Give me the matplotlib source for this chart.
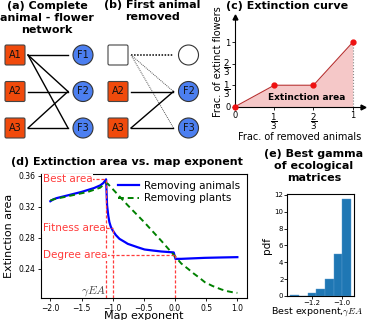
import matplotlib
matplotlib.use("Agg")
import matplotlib.pyplot as plt
from matplotlib.patches import FancyBboxPatch, Circle
import numpy as np

# ---------------- data ----------------
# network (a)/(b)
animal_labels = ["A1", "A2", "A3"]
flower_labels = ["F1", "F2", "F3"]
edges = [(0, 0), (0, 1), (0, 2), (1, 1), (2, 1), (2, 2)]
removed_animal = 0
extinct_flowers = [0]

# extinction curve (c)
frac_removed = [0, 1/3, 2/3, 1]
frac_extinct = [0, 1/3, 1/3, 1]
frac_ticks = [0, 1/3, 2/3, 1]
frac_ticklabels = ["0", r"$\dfrac{1}{3}$", r"$\dfrac{2}{3}$", "1"]

# extinction area vs map exponent (d)
gamma_animals = [-2.0, -1.95, -1.9, -1.8, -1.7, -1.6, -1.5, -1.4, -1.3, -1.2, -1.15, -1.106,
                 -1.09, -1.07, -1.053, -1.03, -1.0, -0.95, -0.892, -0.8, -0.758, -0.6,
                 -0.489, -0.35, -0.22, -0.1, -0.021, 0.0065, 0.1, 0.3, 0.479, 0.75, 1.0]
area_animals = [0.327, 0.3295, 0.331, 0.333, 0.335, 0.337, 0.339, 0.3415, 0.344, 0.3475, 0.3505, 0.3553,
                0.3216, 0.308, 0.300, 0.294, 0.2893, 0.2833, 0.2784, 0.274, 0.2719, 0.2675,
                0.2646, 0.2632, 0.262, 0.2613, 0.2608, 0.2525, 0.2525, 0.2532, 0.2538, 0.2543, 0.2547]
gamma_plants = [-2.0, -1.9, -1.8, -1.6, -1.4, -1.2, -1.12, -1.08, -0.758, -0.489, -0.22, 0.011,
                0.1, 0.21, 0.3, 0.4, 0.479, 0.6, 0.748, 0.85, 0.963, 1.0]
area_plants = [0.328, 0.3305, 0.332, 0.3355, 0.339, 0.3445, 0.3505, 0.3497, 0.3217, 0.2995, 0.2758, 0.2547,
               0.2465, 0.2395, 0.2335, 0.2275, 0.2223, 0.2175, 0.2128, 0.2105, 0.2087, 0.2085]
ref_names = ["Best area", "Fitness area", "Degree area"]
ref_gamma = [-1.115, -0.99, 0.005]
ref_area = [0.3558, 0.2922, 0.2569]

# histogram (e)
bin_left = [-1.348, -1.289, -1.230, -1.171, -1.112, -1.053, -0.994]
bin_width = 0.0589
pdf_vals = [0.15, 0.0, 0.3, 0.8, 2.0, 5.0, 11.5]

# ---------------- figure ----------------
W, H = 374, 320
fig = plt.figure(figsize=(W / 100, H / 100), dpi=100)

def rect(l, t, r, b):
    return [l / W, 1 - b / H, (r - l) / W, (b - t) / H]

ORANGE = "#f04a0c"
BLUE = "#4c7ff0"
TFS = 8  # title font size

# ---- networks (a) and (b) on a pixel overlay ----
axn = fig.add_axes([0, 0, 1, 1])
axn.set_xlim(0, W)
axn.set_ylim(H, 0)
axn.axis("off")

row_y = [55, 91.5, 128]
half = 10

def draw_net(ax_x, fl_x, removed):
    for (a, f) in edges:
        x0, x1 = ax_x + half + 3, fl_x - half - 5
        if a in removed:
            if f in extinct_flowers:
                axn.plot([x0, x1], [row_y[a], row_y[f]], color="black", lw=1.1, ls=(0, (1, 1)))
            else:
                axn.plot([x0, x1], [row_y[a], row_y[f]], color="#555555", lw=0.7, ls=(0, (1, 1)))
        else:
            axn.plot([x0, x1], [row_y[a], row_y[f]], color="black", lw=1.0)
    for i, lab in enumerate(animal_labels):
        gone = i in removed
        axn.add_patch(FancyBboxPatch((ax_x - half + 1.5, row_y[i] - half + 1.5), 2 * half - 3, 2 * half - 3,
                                     boxstyle="round,pad=1.5", fc="white" if gone else ORANGE,
                                     ec="#444444", lw=0.8))
        if not gone:
            axn.text(ax_x, row_y[i], lab, ha="center", va="center", fontsize=7, color="#111111")
    for j, lab in enumerate(flower_labels):
        gone = removed and j in extinct_flowers
        axn.add_patch(Circle((fl_x, row_y[j]), half, fc="white" if gone else BLUE, ec="#333333", lw=0.8))
        if not gone:
            axn.text(fl_x, row_y[j], lab, ha="center", va="center", fontsize=7, color="#111111")

draw_net(15, 83, [])
draw_net(118, 188.5, [removed_animal])

fig.text(47 / W, 1 - 18 / H, "(a) Complete\nanimal - flower\nnetwork", ha="center", va="center",
         fontsize=TFS, fontweight="bold", linespacing=1.2)
fig.text(152 / W, 1 - 11 / H, "(b) First animal\nremoved", ha="center", va="center",
         fontsize=TFS, fontweight="bold", linespacing=1.2)

# ---- (c) extinction curve ----
ox, oy, ux, uy = 235, 106.7, 117.7, 64.4
axc = fig.add_axes(rect(ox, oy - uy * 1.40, ox + ux * 1.09, oy))
axc.set_xlim(0, 1.09)
axc.set_ylim(0, 1.40)
for s in ["top", "right"]:
    axc.spines[s].set_visible(False)
axc.spines["left"].set_linewidth(0.8)
axc.spines["bottom"].set_linewidth(0.8)
axc.plot(1, 0, ">k", transform=axc.get_yaxis_transform(), clip_on=False, ms=3.5)
axc.plot(0, 1, "^k", transform=axc.get_xaxis_transform(), clip_on=False, ms=3.5)
axc.fill_between(frac_removed, frac_extinct, 0, color="#f5c8c8", lw=0)
axc.plot(frac_removed, frac_extinct, color="#b83030", lw=0.8)
axc.plot(frac_removed, frac_extinct, "o", color="#ee1111", ms=3.5, clip_on=False, zorder=5)
axc.plot([frac_removed[-1], frac_removed[-1]], [0, frac_extinct[-1]], color="#888888", lw=0.8, ls=":")
axc.set_xticks(frac_ticks)
axc.set_xticklabels(frac_ticklabels, fontsize=6)
axc.set_yticks(frac_ticks)
axc.set_yticklabels(frac_ticklabels, fontsize=6)
for lbl in axc.get_xticklabels() + axc.get_yticklabels():
    if "frac" in lbl.get_text():
        lbl.set_fontsize(6.3)
axc.tick_params(length=2, width=0.6, pad=1)
axc.text(0.61, 0.15, "Extinction area", fontsize=6.5, fontweight="bold", ha="center", va="center")
axc.set_xlabel("Frac. of removed animals", fontsize=7, labelpad=0)
axc.set_ylabel("Frac. of extinct flowers", fontsize=7, labelpad=0)
fig.text(287.5 / W, 1 - 6 / H, "(c) Extinction curve", ha="center", va="center",
         fontsize=TFS, fontweight="bold")

# ---- (d) extinction area vs map exponent ----
axd = fig.add_axes(rect(41, 174.3, 246.7, 298.3))
axd.plot(gamma_animals, area_animals, color="blue", lw=1.6, label="Removing animals")
axd.plot(gamma_plants, area_plants, color="green", lw=1.4, ls=(0, (3, 2)), label="Removing plants")
axd.set_xlim(-2.15, 1.15)
axd.set_ylim(0.2015, 0.3618)
axd.set_xticks([-2.0, -1.5, -1.0, -0.5, 0.0, 0.5, 1.0])
axd.set_yticks([0.24, 0.28, 0.32, 0.36])
axd.tick_params(labelsize=5.5, length=2.5, width=0.6, pad=1.5)
RED = "#ff3b3b"
for name, g, a in zip(ref_names, ref_gamma, ref_area):
    axd.plot([-2.15, g], [a, a], color=RED, lw=0.9, ls=(0, (2.5, 1.5)))
    axd.plot([g, g], [0.2015, a], color=RED, lw=0.9, ls=(0, (2.5, 1.5)))
    axd.text(-2.12, a, name, color=RED, fontsize=7.5, ha="left", va="center",
             bbox=dict(fc="white", ec="none", pad=0.3))
axd.text(ref_gamma[0] + 0.02, 0.2022, r"$\gamma EA$", color="#444444", fontsize=8.5, ha="right",
         va="bottom", math_fontfamily="cm")
axd.legend(loc="upper right", frameon=False, fontsize=7.5, handlelength=2.0,
           borderaxespad=0.2, labelspacing=0.25, handletextpad=0.5)
axd.set_xlabel("Map exponent", fontsize=8, labelpad=-1)
axd.set_ylabel("Extinction area", fontsize=8, labelpad=3)
fig.text(127 / W, 1 - 162 / H, "(d) Extinction area vs. map exponent", ha="center", va="center",
         fontsize=TFS, fontweight="bold")

# ---- (e) histogram ----
axe = fig.add_axes(rect(287.3, 194, 354, 296))
axe.bar(bin_left, pdf_vals, width=bin_width, align="edge", color="#1f77b4", ec="#5a9bd0", lw=0.3)
axe.set_xlim(-1.369, -0.915)
axe.set_ylim(0, 12.1)
axe.set_xticks([-1.2, -1.0])
axe.set_yticks([0, 2, 4, 6, 8, 10, 12])
axe.tick_params(labelsize=5, length=2, width=0.6, pad=0.8)
axe.set_ylabel("pdf", fontsize=7.5, labelpad=2)
fig.text(317 / W, 1.5 / H, r"Best exponent,$\gamma EA$", fontsize=6.8, ha="center", va="bottom",
         math_fontfamily="cm")
fig.text(314 / W, 1 - 166 / H, "(e) Best gamma\nof ecological\nmatrices", ha="center", va="center",
         fontsize=TFS, fontweight="bold", linespacing=1.2)

fig.savefig("out.png", dpi=100)
